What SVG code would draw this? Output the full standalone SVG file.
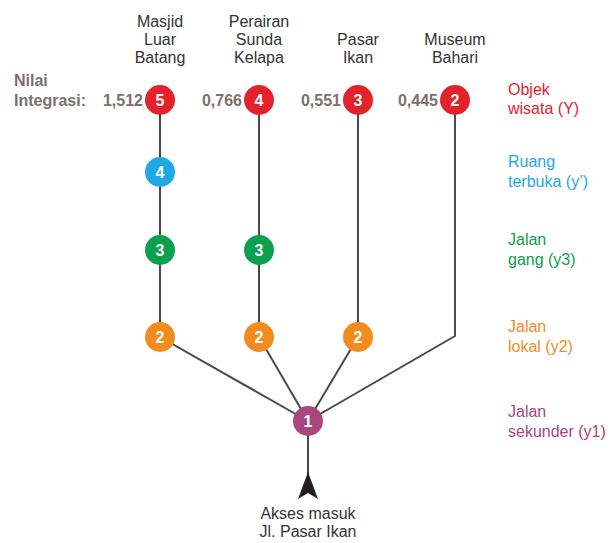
<svg xmlns="http://www.w3.org/2000/svg" width="613" height="543" viewBox="0 0 613 543">
<style>
text{font-family:"Liberation Sans",Arial,sans-serif;font-size:16px}
.t{fill:#333;text-anchor:middle}
.v{fill:#7d7069;font-weight:bold;text-anchor:end}
.n{fill:#fff;font-weight:bold;text-anchor:middle;font-size:16px}
.e{stroke:#4a4a4a;stroke-width:2;fill:none}
.red{fill:#e3222b}.blue{fill:#1ea9e6}.green{fill:#0aa04d}.orange{fill:#f28c1f}.purple{fill:#a9467f}
</style>
<rect width="613" height="543" fill="#fff"/>
<g id="connectors">
<path class="e" d="M160 100V337L308 421"/>
<path class="e" d="M259 100V337L308 421"/>
<path class="e" d="M358 100V337L308 421"/>
<path class="e" d="M455 100V336L308 421"/>
<path class="e" d="M308 421V480"/>
<path d="M308 472L318 499L308 493L298 499Z" fill="#231f20"/>
</g>
<g id="n5"><circle class="red" cx="160" cy="100" r="15"/><text class="n" x="160" y="106">5</text></g>
<g id="n4r"><circle class="red" cx="259" cy="100" r="15"/><text class="n" x="259" y="106">4</text></g>
<g id="n3r"><circle class="red" cx="358" cy="100" r="15"/><text class="n" x="358" y="106">3</text></g>
<g id="n2r"><circle class="red" cx="455" cy="100" r="15"/><text class="n" x="455" y="106">2</text></g>
<g id="n4b"><circle class="blue" cx="160" cy="172" r="15"/><text class="n" x="160" y="178">4</text></g>
<g id="n3a"><circle class="green" cx="160" cy="250" r="15"/><text class="n" x="160" y="256">3</text></g>
<g id="n3b"><circle class="green" cx="259" cy="250" r="15"/><text class="n" x="259" y="256">3</text></g>
<g id="n2a"><circle class="orange" cx="160" cy="337" r="15"/><text class="n" x="160" y="343">2</text></g>
<g id="n2b"><circle class="orange" cx="259" cy="337" r="15"/><text class="n" x="259" y="343">2</text></g>
<g id="n2c"><circle class="orange" cx="358" cy="337" r="15"/><text class="n" x="358" y="343">2</text></g>
<g id="n1"><circle class="purple" cx="308" cy="421" r="15"/><text class="n" x="308" y="427">1</text></g>
<g id="titles">
<text class="t" x="160" y="27">Masjid</text><text class="t" x="160" y="45">Luar</text><text class="t" x="160" y="63">Batang</text>
<text class="t" x="259" y="27">Perairan</text><text class="t" x="259" y="45">Sunda</text><text class="t" x="259" y="63">Kelapa</text>
<text class="t" x="358" y="45">Pasar</text><text class="t" x="358" y="63">Ikan</text>
<text class="t" x="455" y="45">Museum</text><text class="t" x="455" y="63">Bahari</text>
</g>
<g id="values">
<text class="v" x="14" y="86" style="text-anchor:start">Nilai</text>
<text class="v" x="14" y="106" style="text-anchor:start">Integrasi:</text>
<text class="v" x="143" y="106">1,512</text>
<text class="v" x="242" y="106">0,766</text>
<text class="v" x="341" y="106">0,551</text>
<text class="v" x="438" y="106">0,445</text>
</g>
<g id="legend">
<text class="red" x="508" y="95">Objek</text><text class="red" x="508" y="114">wisata (Y)</text>
<text class="blue" x="508" y="167">Ruang</text><text class="blue" x="508" y="187">terbuka (y’)</text>
<text class="green" x="508" y="245">Jalan</text><text class="green" x="508" y="265">gang (y3)</text>
<text class="orange" x="508" y="332">Jalan</text><text class="orange" x="508" y="352">lokal (y2)</text>
<text class="purple" x="508" y="417">Jalan</text><text class="purple" x="508" y="437">sekunder (y1)</text>
</g>
<g id="access">
<text class="t" x="308" y="519">Akses masuk</text>
<text class="t" x="308" y="537">Jl. Pasar Ikan</text>
</g>
</svg>
